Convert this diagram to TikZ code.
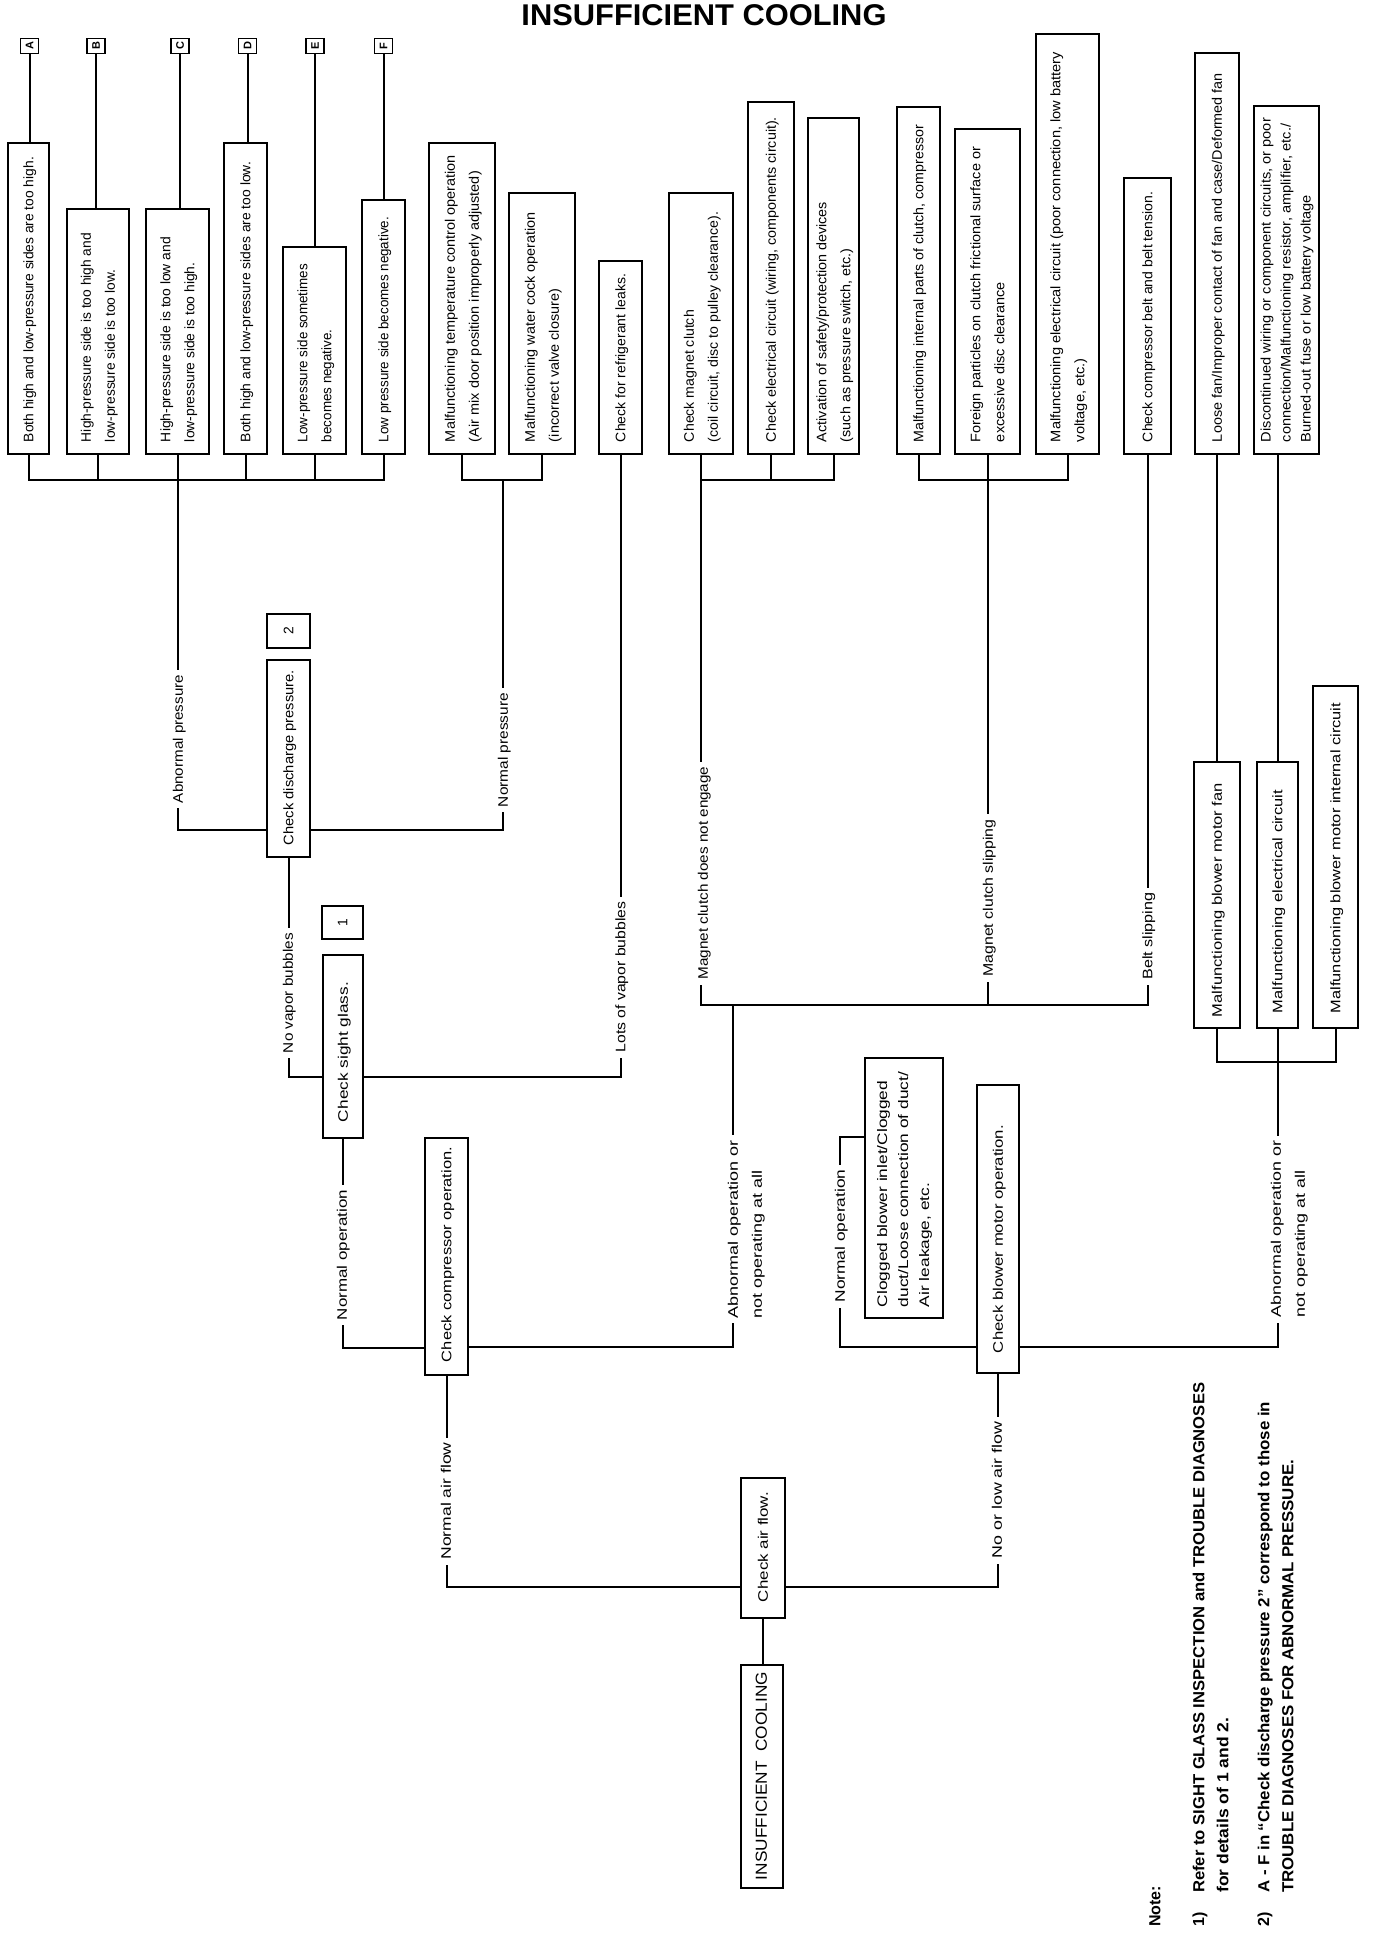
\documentclass[tikz,border=0pt]{standalone}
\usepackage{fontspec}
\setmainfont{Liberation Sans}
\usepackage{graphicx}
\newcommand{\vt}[3]{\rotatebox{90}{\makebox[#1pt][l]{\resizebox{#2pt}{\height}{\begin{tabular}{@{}l@{}}#3\end{tabular}}}}}
\newcommand{\lt}[2]{\rotatebox{90}{\resizebox{#1pt}{\height}{\begin{tabular}{@{}l@{}}#2\end{tabular}}}}
\newcommand{\rt}[1]{\rotatebox{90}{#1}}
\begin{document}
\begin{tikzpicture}[x=1pt,y=-1pt,
  tbox/.style={draw, line width=2.4pt, inner sep=0pt, font=\fontsize{13.8}{24}\selectfont},
  lbox/.style={draw, line width=1.6pt, inner sep=0pt, minimum width=18pt, minimum height=15pt, font=\bfseries\fontsize{11}{11}\selectfont},
  conn/.style={line width=2pt},
  lbl/.style={fill=white, inner xsep=1pt, inner ysep=5pt, font=\fontsize{13.8}{24}\selectfont},
  note/.style={inner sep=0pt, font=\bfseries\fontsize{16}{22}\selectfont},
]
\fill[white] (0,0) rectangle (1376,1934);
\useasboundingbox (0,0) rectangle (1376,1934);

% title
\node[inner sep=0pt, font=\bfseries\fontsize{30}{30}\selectfont] (title) at (704,15) {\resizebox{365pt}{\height}{INSUFFICIENT COOLING}};

% letter boxes
\node[lbox] (lA) at (29.5,46) {\rt{A}};
\node[lbox] (lB) at (96,46) {\rt{B}};
\node[lbox] (lC) at (180,46) {\rt{C}};
\node[lbox] (lD) at (247.5,46) {\rt{D}};
\node[lbox] (lE) at (315,46) {\rt{E}};
\node[lbox] (lF) at (383.5,46) {\rt{F}};

% top row boxes
\node[tbox, minimum width=41pt, minimum height=311pt] (b1) at (28.5,298.5) {\vt{287}{285}{Both high and low-pressure sides are too high.}};
\node[tbox, minimum width=62pt, minimum height=245pt] (b2) at (98,331.5) {\vt{221}{209}{High-pressure side is too high and\\low-pressure side is too low.}};
\node[tbox, minimum width=63pt, minimum height=245pt] (b3) at (177.5,331.5) {\vt{221}{205}{High-pressure side is too low and\\low-pressure side is too high.}};
\node[tbox, minimum width=43pt, minimum height=311pt] (b4) at (245.5,298.5) {\vt{287}{280}{Both high and low-pressure sides are too low.}};
\node[tbox, minimum width=63pt, minimum height=207pt] (b5) at (314.5,350.5) {\vt{183}{178}{Low-pressure side sometimes\\becomes negative.}};
\node[tbox, minimum width=43pt, minimum height=254pt] (b6) at (383.5,327) {\vt{230}{225}{Low pressure side becomes negative.}};
\node[tbox, minimum width=66pt, minimum height=311pt] (b7) at (462,298.5) {\vt{287}{287}{Malfunctioning temperature control operation\\(Air mix door position improperly adjusted)}};
\node[tbox, minimum width=66pt, minimum height=261pt] (b8) at (542,323.5) {\vt{237}{230}{Malfunctioning water cock operation\\(incorrect valve closure)}};
\node[tbox, minimum width=43pt, minimum height=193pt] (b9) at (620.5,357.5) {\vt{169}{168}{Check for refrigerant leaks.}};
\node[tbox, minimum width=64pt, minimum height=261pt] (b10) at (701,323.5) {\vt{237}{230}{Check magnet clutch\\(coil circuit, disc to pulley clearance).}};
\node[tbox, minimum width=46pt, minimum height=352pt] (b11) at (771,278) {\vt{328}{325}{Check electrical circuit (wiring, components circuit).}};
\node[tbox, minimum width=51pt, minimum height=336pt] (b12) at (833.5,286) {\vt{312}{240}{Activation of safety/protection devices\\(such as pressure switch, etc.)}};
\node[tbox, minimum width=43pt, minimum height=347pt] (b13) at (918.5,280.5) {\vt{323}{317}{Malfunctioning internal parts of clutch, compressor}};
\node[tbox, minimum width=65pt, minimum height=325pt] (b14) at (987.5,291.5) {\vt{301}{295}{Foreign particles on clutch frictional surface or\\excessive disc clearance}};
\node[tbox, minimum width=63pt, minimum height=420pt] (b15) at (1067.5,244) {\vt{396}{390}{Malfunctioning electrical circuit (poor connection, low battery\\voltage, etc.)}};
\node[tbox, minimum width=47pt, minimum height=276pt] (b16) at (1147.5,316) {\vt{252}{250}{Check compressor belt and belt tension.}};
\node[tbox, minimum width=44pt, minimum height=401pt] (b17) at (1217,253.5) {\vt{377}{369}{Loose fan/Improper contact of fan and case/Deformed fan}};
\node[tbox, minimum width=65pt, minimum height=348pt, font=\fontsize{13.8}{20}\selectfont] (b18) at (1286.5,280) {\vt{324}{324}{Discontinued wiring or component circuits, or poor\\connection/Malfunctioning resistor, amplifier, etc./\\Burned-out fuse or low battery voltage}};

% blower motor causes
\node[tbox, minimum width=46pt, minimum height=266pt] (b19) at (1217,895) {\vt{244}{234}{Malfunctioning blower motor fan}};
\node[tbox, minimum width=41pt, minimum height=266pt] (b20) at (1277.5,895) {\vt{236}{223}{Malfunctioning electrical circuit}};
\node[tbox, minimum width=45pt, minimum height=342pt] (b21) at (1335.5,857) {\vt{312}{310}{Malfunctioning blower motor internal circuit}};

% decision boxes
\node[tbox, minimum width=43pt, minimum height=34pt] (n2) at (288.5,631) {\rt{2}};
\node[tbox, minimum width=43pt, minimum height=197pt] (disch) at (288.5,758.5) {\vt{173}{175}{Check discharge pressure.}};
\node[tbox, minimum width=41pt, minimum height=33pt] (n1) at (342.5,922.5) {\rt{1}};
\node[tbox, minimum width=40pt, minimum height=183pt] (sight) at (343,1046.5) {\vt{151}{140}{Check sight glass.}};
\node[tbox, minimum width=43pt, minimum height=237pt] (comp) at (446.5,1256.5) {\vt{211}{215}{Check compressor operation.}};
\node[tbox, minimum width=78pt, minimum height=260pt, font=\fontsize{13.8}{21}\selectfont] (clog) at (904,1188) {\vt{238}{235}{Clogged blower inlet/Clogged\\duct/Loose connection of duct/\\Air leakage, etc.}};
\node[tbox, minimum width=42pt, minimum height=288pt] (blower) at (998,1229) {\vt{248}{228}{Check blower motor operation.}};
\node[tbox, minimum width=44pt, minimum height=140pt] (airflow) at (763,1548) {\vt{108}{110}{Check air flow.}};
\node[tbox, minimum width=42pt, minimum height=223pt, font=\fontsize{16}{24}\selectfont] (ic) at (762,1776.5) {\vt{207}{208}{INSUFFICIENT\ \ COOLING}};

% coordinates of junctions and corners
\coordinate (j1) at (178,480);
\coordinate (k1) at (178,830);
\coordinate (j2) at (503,480);
\coordinate (k2) at (503,830);
\coordinate (k3) at (288,1077);
\coordinate (k4) at (342,1348);
\coordinate (j3) at (703,480);
\coordinate (k5) at (703,1005);
\coordinate (j4) at (988,480);
\coordinate (k7) at (733,1005);
\coordinate (k8) at (733,1347);
\coordinate (k9) at (446,1587);
\coordinate (j5) at (1277,1062);
\coordinate (k10) at (1277,1347);
\coordinate (k11) at (840,1347);
\coordinate (k12) at (840,1137);
\coordinate (k13) at (997,1587);

% letter connectors
\draw[conn] (lA.south) -- (lA.south |- b1.north);
\draw[conn] (lB.south) -- (lB.south |- b2.north);
\draw[conn] (lC.south) -- (lC.south |- b3.north);
\draw[conn] (lD.south) -- (lD.south |- b4.north);
\draw[conn] (lE.south) -- (lE.south |- b5.north);
\draw[conn] (lF.south) -- (lF.south |- b6.north);

% abnormal pressure group
\draw[conn] (b1.south) -- (b1.south |- j1) -- (b6.south |- j1) -- (b6.south);
\foreach \n in {b2,b3,b4,b5} \draw[conn] (\n.south) -- (\n.south |- j1);
\draw[conn] (j1) -- (k1) -- (k1 -| disch.west);
% normal pressure group
\draw[conn] (b7.south) -- (b7.south |- j2) -- (b8.south |- j2) -- (b8.south);
\draw[conn] (j2) -- (k2) -- (k2 -| disch.east);
% discharge to sight glass
\draw[conn] (disch.south) -- (disch.south |- k3) -- (k3 -| sight.west);
\draw[conn] (b9.south) -- (b9.south |- k3) -- (k3 -| sight.east);
% sight glass to compressor
\draw[conn] (sight.south) -- (sight.south |- k4) -- (k4 -| comp.west);
% magnet clutch groups
\draw[conn] (b10.south) -- (b10.south |- j3) -- (b12.south |- j3) -- (b12.south);
\draw[conn] (b11.south) -- (b11.south |- j3);
\draw[conn] (b10.south |- j3) -- (b10.south |- k5) -- (b16.south |- k5) -- (b16.south);
\draw[conn] (b13.south) -- (b13.south |- j4) -- (b15.south |- j4) -- (b15.south);
\draw[conn] (b14.south) -- (b14.south |- k5);
\draw[conn] (k7) -- (k8) -- (k8 -| comp.east);
% compressor to air flow
\draw[conn] (comp.south) -- (comp.south |- k9) -- (k9 -| airflow.west);
% blower causes
\draw[conn] (b17.south) -- (b17.south |- b19.north);
\draw[conn] (b20.north |- b18.south) -- (b20.north);
\draw[conn] (b19.south) -- (b19.south |- j5) -- (b21.south |- j5) -- (b21.south);
\draw[conn] (b20.south) -- (b20.south |- k10) -- (k10 -| blower.east);
\draw[conn] (k11 -| blower.west) -- (k11) -- (k12) -- (k12 -| clog.west);
\draw[conn] (blower.south) -- (blower.south |- k13) -- (k13 -| airflow.east);
\draw[conn] (airflow.south) -- (airflow.south |- ic.north);

% labels on connectors
\node[lbl] (lab1) at (178,739) {\lt{128}{Abnormal pressure}};
\node[lbl] (lab2) at (503,750) {\lt{114}{Normal pressure}};
\node[lbl] (lab3) at (288,993) {\lt{120}{No vapor bubbles}};
\node[lbl] (lab4) at (620.5,977) {\lt{151}{Lots of vapor bubbles}};
\node[lbl] (lab5) at (703,873) {\lt{213}{Magnet clutch does not engage}};
\node[lbl] (lab6) at (988,898) {\lt{157}{Magnet clutch slipping}};
\node[lbl] (lab7) at (1147.5,936) {\lt{87}{Belt slipping}};
\node[lbl] (lab8) at (342,1255) {\lt{130}{Normal operation}};
\node[lbl] (lab9) at (745,1229) {\lt{178}{Abnormal operation or\\not operating at all}};
\node[lbl] (lab10) at (446,1501) {\lt{117}{Normal air flow}};
\node[lbl] (lab11) at (1288,1229) {\lt{177}{Abnormal operation or\\not operating at all}};
\node[lbl] (lab12) at (840,1236) {\lt{133}{Normal operation}};
\node[lbl] (lab13) at (997,1490) {\lt{137}{No or low air flow}};

% notes
\node[note, anchor=south] (nt) at (1155,1927) {\rt{Note:}};
\node[note, anchor=south] (n1a) at (1200,1927) {\rt{1)}};
\node[note, anchor=south] (n1b) at (1200,1893) {\lt{510}{Refer to SIGHT GLASS INSPECTION and TROUBLE DIAGNOSES}};
\node[note, anchor=south] (n1c) at (1224,1893) {\lt{175}{for details of 1 and 2.}};
\node[note, anchor=south] (n2a) at (1265,1927) {\rt{2)}};
\node[note, anchor=south] (n2b) at (1265,1893) {\lt{491}{A - F in “Check discharge pressure 2” correspond to those in}};
\node[note, anchor=south] (n2c) at (1289,1893) {\lt{433}{TROUBLE DIAGNOSES FOR ABNORMAL PRESSURE.}};
\end{tikzpicture}
\end{document}
